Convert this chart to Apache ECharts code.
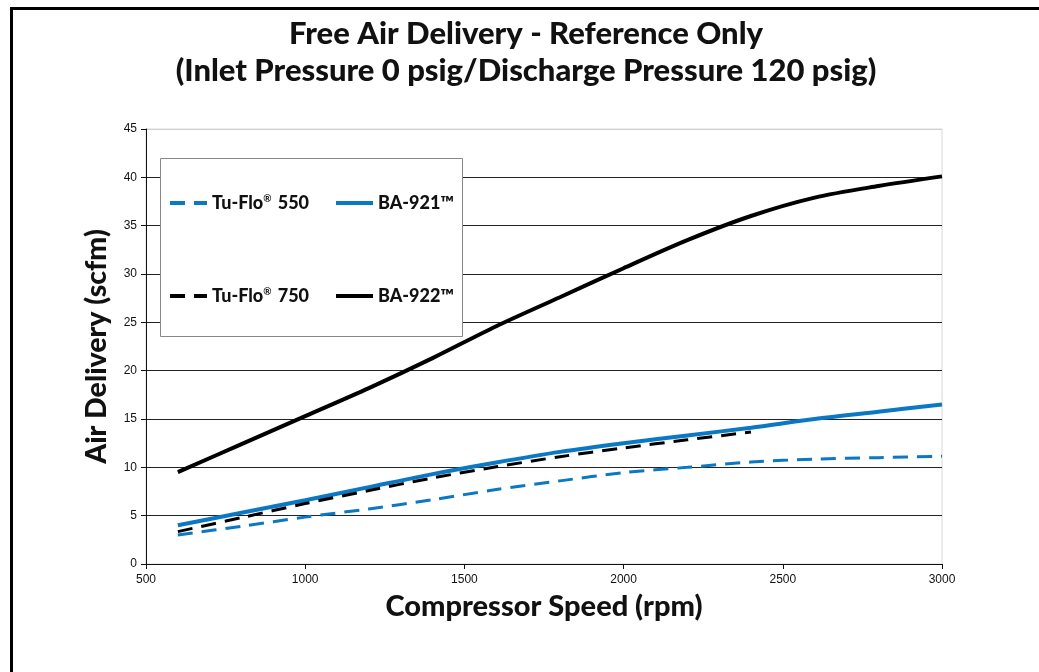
<!DOCTYPE html>
<html lang="en">
<head>
  <meta charset="UTF-8">
  <title>Free Air Delivery</title>
  <script src="https://cdn.jsdelivr.net/npm/echarts@6/dist/echarts.min.js"></script>
  <style>
    html, body { margin: 0; padding: 0; background: #fff; }
  </style>
</head>
<body>
<div id="main" style="width: 1039px;height:672px;"></div>
<script type="text/javascript">
    // 数据 (rpm -> scfm)
    var speeds = [600, 800, 1000, 1200, 1400, 1600, 1800, 2000, 2200, 2400, 2600, 2800, 3000];
    var tuflo550 = [3.0, 3.9, 4.85, 5.7, 6.65, 7.7, 8.6, 9.45, 10.0, 10.55, 10.85, 11.0, 11.15];
    var ba921 = [4.0, 5.3, 6.6, 7.95, 9.3, 10.5, 11.6, 12.5, 13.3, 14.1, 15.0, 15.75, 16.5];
    var tuflo750 = [3.35, 4.8, 6.25, 7.6, 8.9, 10.05, 11.1, 12.0, 12.85, 13.65, null, null, null];
    var ba922 = [9.5, 12.4, 15.3, 18.2, 21.3, 24.6, 27.6, 30.6, 33.5, 36.0, 37.9, 39.1, 40.1];
    var xTicks = [500, 1000, 1500, 2000, 2500, 3000];
    var yTicks = [0, 5, 10, 15, 20, 25, 30, 35, 40, 45];
    var seriesNames = ['Tu-Flo® 550', 'BA-921™', 'Tu-Flo® 750', 'BA-922™'];

    var blue = '#0b78c4';
    var boldFont = 'Lato';

    function pairs(vals) {
        var out = [];
        for (var i = 0; i < speeds.length; i++) {
            if (vals[i] != null) out.push([speeds[i], vals[i]]);
        }
        return out;
    }

    // 网格线颜色: 最上面一条浅灰
    var splitColors = yTicks.map(function (v, i) {
        return i === yTicks.length - 1 ? '#d0d0d0' : '#222';
    });

    function legendFmt(name) {
        return name.replace('®', '{sup|®}');
    }

    function makeLegend(name, left, top) {
        return {
            data: [name],
            left: left,
            top: top,
            z: 10,
            orient: 'horizontal',
            itemWidth: 37,
            itemHeight: 14,
            itemGap: 0,
            padding: 0,
            selectedMode: false,
            formatter: legendFmt,
            itemStyle: { opacity: 0 }, // 不显示圆点
            lineStyle: { width: 4 },
            textStyle: {
                fontFamily: boldFont,
                fontWeight: 900,
                fontSize: 18,
                color: '#111',
                padding: [0, 0, 0, 0],
                rich: {
                    sup: {
                        fontFamily: boldFont,
                        fontWeight: 'bold',
                        fontSize: 10,
                        verticalAlign: 'top',
                        padding: [0, 2, 8, 0],
                        color: '#111'
                    }
                }
            }
        };
    }

    var myChart = echarts.init(document.getElementById('main'));

    var option = {
        animation: false,
        title: {
            text: 'Free Air Delivery - Reference Only\n(Inlet Pressure 0 psig/Discharge Pressure 120 psig)',
            left: 521,
            textAlign: 'center',
            top: 10,
            textStyle: {
                fontFamily: boldFont,
                fontWeight: 900,
                fontSize: 31,
                lineHeight: 37,
                color: '#111'
            }
        },
        graphic: [
            // 外框
            {
                type: 'polyline',
                shape: { points: [[11.5, 672], [11.5, 8.5], [1039, 8.5]] },
                style: { stroke: '#000', lineWidth: 3, fill: null }
            },
            // 图例框
            {
                type: 'rect',
                shape: { x: 160.5, y: 158.5, width: 302, height: 178 },
                style: { fill: '#fff', stroke: '#888', lineWidth: 1 },
                z: 3
            }
        ],
        legend: [
            makeLegend(seriesNames[0], 168, 194),
            makeLegend(seriesNames[1], 334, 194),
            makeLegend(seriesNames[2], 168, 287),
            makeLegend(seriesNames[3], 334, 287)
        ],
        grid: {
            left: 146,
            right: 97,
            top: 129,
            bottom: 108,
            show: true,
            borderColor: '#d8d8d8',
            borderWidth: 1
        },
        xAxis: {
            type: 'value',
            min: xTicks[0],
            max: xTicks[xTicks.length - 1],
            interval: 500,
            name: 'Compressor Speed (rpm)',
            nameLocation: 'middle',
            nameGap: 28,
            nameTextStyle: {
                fontFamily: boldFont,
                fontWeight: 900,
                fontSize: 29,
                color: '#111'
            },
            axisLine: { lineStyle: { color: '#111', width: 1 } },
            axisTick: { show: true, length: 5, lineStyle: { color: '#111' } },
            axisLabel: {
                margin: 10,
                fontFamily: 'Liberation Sans',
                fontSize: 12,
                color: '#111',
                formatter: function (v) { return String(v); }
            },
            splitLine: { show: false }
        },
        yAxis: {
            type: 'value',
            min: yTicks[0],
            max: yTicks[yTicks.length - 1],
            interval: 5,
            name: 'Air Delivery (scfm)',
            nameLocation: 'middle',
            nameGap: 35,
            nameTextStyle: {
                fontFamily: boldFont,
                fontWeight: 900,
                fontSize: 28.5,
                color: '#111'
            },
            axisLine: { show: true, lineStyle: { color: '#111', width: 1 } },
            axisTick: { show: true, length: 5, lineStyle: { color: '#111' } },
            axisLabel: {
                margin: 9,
                fontFamily: 'Liberation Sans',
                fontSize: 12,
                color: '#111'
            },
            splitLine: { show: true, lineStyle: { color: splitColors, width: 1 } }
        },
        series: [{
            name: seriesNames[0],
            type: 'line',
            smooth: 0.3,
            symbol: 'none',
            color: blue,
            lineStyle: { color: blue, width: 3, type: [15, 9] },
            data: pairs(tuflo550)
        }, {
            name: seriesNames[1],
            type: 'line',
            smooth: 0.3,
            symbol: 'none',
            color: blue,
            lineStyle: { color: blue, width: 4 },
            data: pairs(ba921)
        }, {
            name: seriesNames[2],
            type: 'line',
            smooth: 0.3,
            symbol: 'none',
            color: '#000',
            lineStyle: { color: '#000', width: 3, type: [15, 9] },
            data: pairs(tuflo750)
        }, {
            name: seriesNames[3],
            type: 'line',
            smooth: 0.3,
            symbol: 'none',
            color: '#000',
            lineStyle: { color: '#000', width: 4 },
            data: pairs(ba922)
        }]
    };

    myChart.setOption(option);
</script>
</body>
</html>
